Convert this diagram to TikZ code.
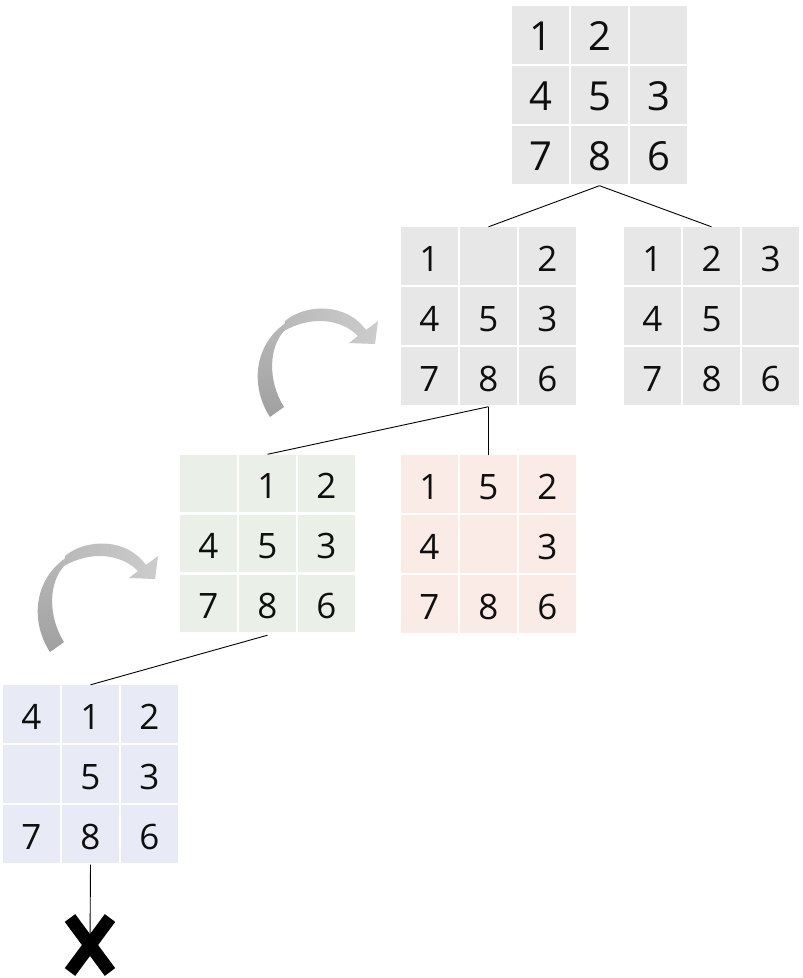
\documentclass[tikz,border=0pt]{standalone}
\usepackage{fontspec}
\setmainfont{Open Sans}
\definecolor{cgray}{RGB}{231,231,231}
\definecolor{cgreen}{RGB}{234,239,231}
\definecolor{cpink}{RGB}{251,235,230}
\definecolor{cblue}{RGB}{232,234,245}
\definecolor{arrdark}{RGB}{160,160,160}
\definecolor{arrmid}{RGB}{185,185,185}
\definecolor{arrlight}{RGB}{204,204,204}
\definecolor{digitcol}{RGB}{15,15,15}
\tikzset{
  cell/.style={rectangle, minimum width=57pt, minimum height=57.5pt, inner sep=0pt, draw=none},
  gridbox/.style={rectangle, minimum width=175pt, minimum height=177.5pt, inner sep=0pt, draw=none},
  digit/.style={anchor=base, inner sep=0pt, text=digitcol, font=\fontsize{35}{35}\selectfont},
  bigdigit/.style={anchor=base, inner sep=0pt, text=digitcol, font=\fontsize{40}{40}\selectfont},
  link/.style={draw=black, line width=0.9pt},
  crossarm/.style={draw=black, line width=13pt, line cap=butt},
}
% name, x, y, cell fill, digit style, digits
\newcommand\pgrid[6]{%
  \node[gridbox] (#1) at (#2+87.5,#3+88.75) {};
  \foreach \d [count=\i from 0] in {#6} {
    \pgfmathtruncatemacro\col{mod(\i,3)}
    \pgfmathtruncatemacro\row{div(\i,3)}
    \node[cell, fill=#4] (#1-c\i) at (#2+28.5+59*\col, #3+28.75+60*\row) {};
    \node[#5] (#1-t\i) at (#2+28.5+59*\col, #3+44+60*\row) {\d};
  }
}
\newcommand\bentarrow[2]{%
  \begin{scope}[shift={(#1,#2)}]
    \shade[bottom color=arrdark, top color=arrmid]
      (270,417) .. controls (249,385) and (254,340) .. (292,319)
      -- (285,330) .. controls (269,346) and (267,380) .. (284,407) -- cycle;
    \shade[left color=arrmid, right color=arrlight]
      (285,321) .. controls (305,304) and (346,302) .. (366,330)
      -- (378,321) -- (375,344) -- (349,343) -- (358,336)
      .. controls (340,318) and (310,316) .. (284,331) -- cycle;
  \end{scope}
}
\begin{document}
\begin{tikzpicture}[x=1pt, y=-1pt]
  \useasboundingbox (0,0) rectangle (803,978);
  \fill[white] (0,0) rectangle (803,978);

  \pgrid{A}{512}{6}{cgray}{bigdigit}{1,2,{},4,5,3,7,8,6}
  \pgrid{B}{401}{227}{cgray}{digit}{1,{},2,4,5,3,7,8,6}
  \pgrid{C}{624}{227}{cgray}{digit}{1,2,3,4,5,{},7,8,6}
  \pgrid{D}{180}{454.5}{cgreen}{digit}{{},1,2,4,5,3,7,8,6}
  \pgrid{E}{401}{455}{cpink}{digit}{1,5,2,4,{},3,7,8,6}
  \pgrid{F}{3}{685}{cblue}{digit}{4,1,2,{},5,3,7,8,6}

  \coordinate (Aj) at ([yshift=-2pt]A.south);
  \coordinate (Bj) at ([yshift=-2pt]B.south);
  \coordinate (Dj) at ([yshift=-3pt]D.south);
  \coordinate (Fj) at ([yshift=-2pt]F.south);
  \coordinate (Xc) at (90,945);

  \draw[link] (Aj) -- (B.north);
  \draw[link] (Aj) -- (C.north);
  \draw[link] (Bj) -- (E.north);
  \draw[link] (Bj) -- (D.north);
  \draw[link] (Dj) -- (F.north);
  \draw[link] (Fj) -- (Xc);

  \bentarrow{0}{0}
  \bentarrow{-220}{235}

  \draw[crossarm] ([shift={(-20,-27)}]Xc) -- ([shift={(20,27)}]Xc);
  \draw[crossarm] ([shift={(20,-27)}]Xc) -- ([shift={(-20,27)}]Xc);
\end{tikzpicture}
\end{document}
